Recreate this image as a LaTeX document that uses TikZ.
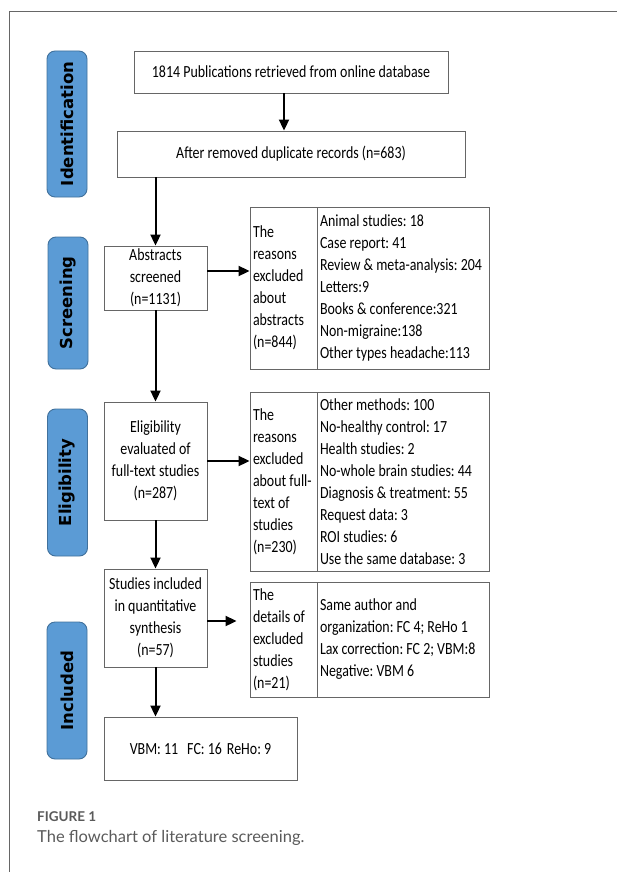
\documentclass[tikz,border=0pt]{standalone}
\usepackage{fontspec}
\setmainfont{Carlito}[FakeStretch=0.82]
\newfontfamily\labfont{DejaVu Sans}
\newfontfamily\capfont{Lato}
\usetikzlibrary{arrows.meta}
\definecolor{lblue}{HTML}{5B9BD5}
\definecolor{lborder}{HTML}{41719C}
\definecolor{boxline}{HTML}{666666}
\definecolor{capgray}{HTML}{5A5A5A}
\begin{document}
\frenchspacing
\begin{tikzpicture}[x=1pt,y=-1pt,
  box/.style={draw=boxline, line width=0.9pt, rectangle, inner sep=0pt, font=\fontsize{17}{22}\selectfont, align=center},
  col/.style={draw=boxline, line width=0.9pt, rectangle, inner xsep=3pt, inner ysep=0pt, font=\fontsize{17}{22}\selectfont, align=flush left},
  stage/.style={draw=lborder, fill=lblue, rounded corners=8pt, line width=0.9pt, minimum height=40pt, inner sep=0pt, font=\labfont\bfseries\fontsize{16.5}{20}\selectfont, rotate=90},
  arr/.style={line width=2pt, -{Triangle[length=11pt,width=10pt]}},
  captxt/.style={anchor=west, inner sep=0pt, text=capgray}
]
\useasboundingbox (0,0) rectangle (617,872);
% frame
\draw[boxline, line width=1pt] (9,872) -- (9,12) -- (617,12);

% stage labels
\node[stage, minimum width=146pt] (sid) at (67,124) {Identification};
\node[stage, minimum width=132pt] (ssc) at (68,303) {Screening};
\node[stage, minimum width=147pt] (sel) at (67.5,482.5) {Eligibility};
\node[stage, minimum width=137pt] (sin) at (67,690.5) {Included};

% main boxes
\node[box, minimum width=314pt, minimum height=42pt] (b1) at (291,72) {1814 Publications retrieved from online database};
\node[box, minimum width=348pt, minimum height=46pt] (b2) at (291,154) {After removed duplicate records (n=683)};
\node[box, minimum width=103pt, minimum height=64pt] (abs) at (155.5,278) {Abstracts\\screened\\(n=1131)};
\node[box, minimum width=103pt, minimum height=118pt] (el) at (155.5,461) {Eligibility\\evaluated of\\full-text studies\\(n=287)};
\node[box, minimum width=103pt, minimum height=98pt] (st) at (155.5,618) {Studies included\\in quantitative\\synthesis\\(n=57)};
\node[box, minimum width=193pt, minimum height=63pt] (fin) at (200.5,748.5) {VBM: 11\hspace{9pt}FC: 16\hspace{5pt}ReHo: 9};

% reason boxes
\node[col, text width=61pt, minimum height=162pt] (r1l) at (283.5,288) {The\\reasons\\excluded\\about\\abstracts\\(n=844)};
\node[col, text width=166pt, minimum height=162pt] (r1r) at (403,288) {Animal studies: 18\\Case report: 41\\Review \& meta-analysis: 204\\Letters:9\\Books \& conference:321\\Non-migraine:138\\Other types headache:113};

\node[col, text width=61pt, minimum height=179pt] (r2l) at (283.5,481.5) {The\\reasons\\excluded\\\mbox{about full-}\\text of\\studies\\(n=230)};
\node[col, text width=166pt, minimum height=179pt] (r2r) at (403,481.5) {Other methods: 100\\No-healthy control: 17\\Health studies: 2\\No-whole brain studies: 44\\Diagnosis \& treatment: 55\\Request data: 3\\ROI studies: 6\\Use the same database: 3};

\node[col, text width=61pt, minimum height=115pt] (r3l) at (283.5,639.5) {The\\details of\\excluded\\studies\\(n=21)};
\node[col, text width=166pt, minimum height=115pt] (r3r) at (403,639.5) {Same author and\\organization: FC 4; ReHo 1\\Lax correction: FC 2; VBM:8\\Negative: VBM 6};

% connectors
\path ([xshift=-7pt]b1.south) coordinate (a1);
\draw[arr] (a1) -- (a1 |- b2.north);
\draw[arr] (b2.south -| abs.north) -- (abs.north);
\path ([yshift=7pt]abs.east) coordinate (a2);
\draw[arr] (a2) -- (a2 -| r1l.west);
\draw[arr] (abs.south) -- (el.north);
\draw[arr] (el.east) -- (el.east -| r2l.west);
\draw[arr] (el.south) -- (st.north);
\path ([yshift=-3pt]st.east) coordinate (a3);
\draw[arr, shorten >=13pt] (a3) -- (a3 -| r3l.west);
\draw[arr] (st.south) -- (st.south |- fin.north);

% caption
\node[captxt, font=\capfont\bfseries\fontsize{13.5}{16}\selectfont] (cap1) at (37,817) {FIGURE 1};
\node[captxt, font=\capfont\fontsize{16.5}{20}\selectfont] (cap2) at (37,838) {The flowchart of literature screening.};
\end{tikzpicture}
\end{document}
